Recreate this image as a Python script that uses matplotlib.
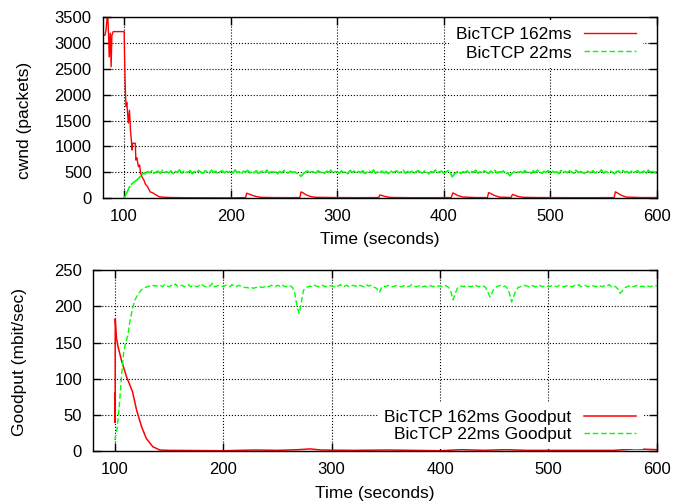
import numpy as np
import matplotlib
matplotlib.use('Agg')
import matplotlib.pyplot as plt

plt.rcParams['font.family'] = ['Liberation Sans', 'DejaVu Sans']
plt.rcParams['font.size'] = 12.5

# cwnd BicTCP 22ms (amostrado a cada 2 s, de 100 a 600)
t_verde = np.arange(100, 601, 2)
cwnd_22 = [
    0, 80, 170, 250, 290, 320, 350, 390, 440, 480,
    470, 515, 490, 530, 480, 505, 520, 475, 540, 495,
    510, 485, 525, 470, 515, 500, 545, 480, 520, 495,
    505, 530, 470, 515, 490, 535, 500, 480, 525, 510,
    485, 540, 495, 520, 470, 510, 530, 490, 515, 500,
    525, 480, 545, 495, 510, 470, 520, 505, 535, 485,
    515, 490, 530, 475, 505, 520, 495, 540, 480, 510,
    500, 525, 470, 515, 490, 535, 505, 485, 520, 495,
    510, 480, 460, 420, 470, 500, 525, 490, 515, 505,
    485, 530, 495, 510, 475, 520, 500, 540, 490, 515,
    505, 480, 525, 495, 510, 470, 535, 500, 520, 485,
    515, 495, 530, 475, 505, 525, 490, 545, 480, 510,
    500, 520, 485, 515, 470, 530, 495, 510, 525, 490,
    505, 540, 480, 515, 495, 520, 475, 510, 530, 500,
    485, 525, 505, 470, 515, 495, 540, 490, 510, 520,
    480, 505, 530, 495, 410, 470, 500, 520, 475, 510,
    495, 525, 485, 515, 500, 540, 480, 510, 490, 525,
    505, 475, 520, 495, 535, 485, 510, 500, 525, 470,
    490, 430, 480, 505, 520, 495, 515, 485, 530, 500,
    510, 475, 525, 495, 540, 505, 480, 515, 500, 530,
    485, 520, 495, 510, 470, 535, 500, 515, 490, 525,
    505, 480, 540, 495, 515, 500, 475, 525, 510, 490,
    530, 485, 510, 500, 545, 480, 515, 495, 520, 505,
    470, 510, 525, 490, 535, 500, 515, 480, 520, 495,
    510, 530, 485, 505, 520, 475, 540, 500, 515, 490,
    505,
]

# cwnd BicTCP 162ms
t_vermelho = [80, 82, 83, 84.5, 85.5, 86, 87, 87.8, 88.5, 89.8, 95, 100,
              100.5, 101, 101.5, 102, 102.5, 103, 104, 105, 106, 106.8,
              107.5, 108, 110.5, 111, 112, 113, 113.5, 114.5, 115.5, 117,
              118.5, 120, 122, 124.5, 127, 130, 133, 138, 145, 155, 170,
              190, 205, 214, 215, 217, 220, 224, 228, 240, 255, 265, 266,
              268, 271, 275, 280, 300, 320, 339, 340, 342, 345, 350, 370,
              390, 407, 408.5, 410, 413, 418, 430, 441, 442, 444, 447, 452,
              463, 464.5, 466, 469, 474, 490, 520, 545, 560, 561, 563, 566,
              571, 585, 600]
cwnd_162 = [3150, 3150, 3250, 3600, 3100, 2730, 3190, 2540, 3150, 3220, 3220,
            3220, 2670, 2200, 1900, 1770, 1850, 1700, 1450, 1700, 1300, 1120,
            930, 1060, 1060, 735, 780, 650, 605, 640, 480, 400, 350, 270, 220,
            120, 100, 60, 25, 15, 10, 8, 6, 5, 5, 10, 95, 80, 55, 30, 15, 10,
            8, 10, 120, 100, 60, 30, 15, 10, 8, 10, 60, 50, 30, 12, 8, 8, 10,
            100, 85, 50, 20, 10, 10, 105, 90, 55, 20, 10, 70, 60, 35, 15, 10,
            8, 8, 10, 120, 100, 60, 20, 10, 10]

# Goodput BicTCP 22ms (a cada 2 s)
goodput_22 = [
    15, 30, 60, 100, 135, 150, 160, 180, 195, 207,
    213, 218, 222, 225, 226, 227, 228, 227, 229, 228,
    228, 229, 227, 230, 228, 227, 229, 228, 231, 227,
    228, 229, 227, 228, 230, 227, 229, 228, 227, 229,
    231, 228, 227, 229, 228, 232, 227, 228, 229, 228,
    227, 229, 228, 227, 230, 228, 227, 229, 228, 227,
    226, 226, 225, 226, 225, 226, 226, 227, 226, 227,
    228, 227, 229, 228, 227, 229, 228, 230, 228, 227,
    229, 228, 226, 218, 200, 190, 205, 222, 226, 227,
    228, 227, 229, 228, 227, 228, 229, 227, 228, 229,
    228, 227, 229, 228, 230, 227, 228, 229, 227, 228,
    229, 228, 227, 229, 228, 227, 230, 228, 229, 227,
    226, 224, 219, 226, 228, 227, 229, 228, 227, 228,
    229, 228, 227, 228, 229, 227, 228, 230, 228, 227,
    228, 229, 227, 228, 227, 229, 228, 227, 229, 228,
    228, 227, 229, 228, 226, 220, 209, 218, 225, 227,
    228, 227, 229, 228, 227, 228, 230, 228, 227, 229,
    228, 226, 220, 213, 219, 225, 227, 228, 229, 227,
    228, 225, 218, 206, 214, 222, 226, 227, 228, 229,
    228, 227, 229, 228, 227, 228, 229, 227, 228, 229,
    227, 228, 229, 228, 227, 229, 228, 227, 228, 229,
    228, 227, 229, 228, 230, 227, 228, 229, 227, 228,
    229, 228, 227, 229, 228, 227, 229, 228, 230, 227,
    228, 227, 224, 218, 221, 225, 227, 228, 229, 227,
    228, 229, 227, 228, 227, 229, 228, 227, 228, 229,
    228,
]

# Goodput BicTCP 162ms
t_gp_162 = [100, 100.1, 100.2, 100.3, 100.4, 101.5, 103, 106, 110.7, 116.3,
            120, 124.6, 129, 135, 141.5, 150, 200, 230, 250, 270, 280, 290,
            320, 350, 400, 420, 440, 460, 480, 520, 560, 580, 600]
goodput_162 = [40, 80, 40, 80, 183, 156, 144, 126, 103, 82, 57, 34, 17.5, 6,
               1.5, 1, 0.5, 1.5, 1, 2, 3, 1.5, 1, 1.5, 0.5, 2, 1, 2, 1, 1, 1,
               3, 2]


def estilo(ax, ymax, ystep):
    ax.set_xlim(80, 600)
    ax.set_ylim(0, ymax)
    ax.set_xticks(range(100, 601, 100))
    ax.set_yticks(range(0, ymax + 1, ystep))
    ax.grid(True, linestyle=':', color='black', linewidth=0.8)
    ax.tick_params(direction='in', length=6, width=1, top=True, right=True,
                   pad=8, labelsize=12)
    for s in ax.spines.values():
        s.set_linewidth(1)


fig = plt.figure(figsize=(6.9, 5.04), dpi=100)
ax1 = fig.add_axes([0.149, 0.607, 0.803, 0.359])
ax2 = fig.add_axes([0.135, 0.105, 0.817, 0.359])

ax1.plot(t_vermelho, cwnd_162, color='#ff0000', linewidth=1, label='BicTCP 162ms')
ax1.plot(t_verde, cwnd_22, color='#00ff00', linewidth=1.2, linestyle=(0, (8, 1)),
         label='BicTCP 22ms')
estilo(ax1, 3500, 500)
ax1.set_xlabel('Time (seconds)')
ax1.set_ylabel('cwnd (packets)')
ax1.xaxis.set_label_coords(0.5, -0.19)
ax1.yaxis.set_label_coords(-0.128, 0.43)
leg1 = ax1.legend(loc='upper right', bbox_to_anchor=(0.975, 0.985), borderaxespad=0,
                  markerfirst=False, handlelength=3.0, handletextpad=0.7,
                  labelspacing=0.2, borderpad=0.4, frameon=True, fancybox=False,
                  framealpha=1, edgecolor='none')
leg1.get_lines()[1].set_linestyle((0, (4, 2)))
leg1.get_lines()[1].set_linewidth(1)

ax2.plot(t_gp_162, goodput_162, color='#ff0000', linewidth=1.1,
         label='BicTCP 162ms Goodput')
ax2.plot(t_verde, goodput_22, color='#00ff00', linewidth=1, linestyle=(0, (4, 2)),
         label='BicTCP 22ms Goodput')
estilo(ax2, 250, 50)
ax2.set_xlabel('Time (seconds)')
ax2.set_ylabel('Goodput (mbit/sec)')
ax2.xaxis.set_label_coords(0.5, -0.193)
ax2.yaxis.set_label_coords(-0.118, 0.49)
ax2.legend(loc='lower right', bbox_to_anchor=(0.975, 0.01), borderaxespad=0,
           markerfirst=False, handlelength=3.0, handletextpad=0.7,
           labelspacing=0.1, borderpad=0.4, frameon=True, fancybox=False,
           framealpha=1, edgecolor='none')

plt.savefig('out.png', dpi=100)
plt.close()
